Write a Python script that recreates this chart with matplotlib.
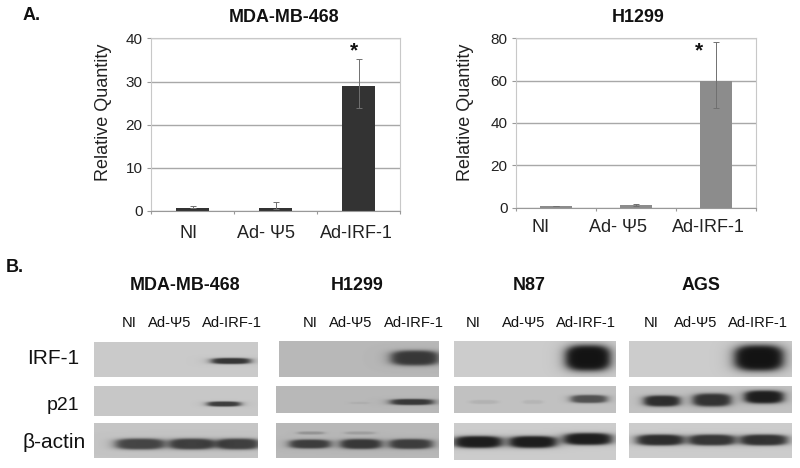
"""Relative quantity bar charts (A) and western blot panels (B)."""
import numpy as np
import matplotlib
matplotlib.use('Agg')
import matplotlib.pyplot as plt

plt.rcParams['font.family'] = ['Liberation Sans', 'DejaVu Sans']

W, H = 800, 468

# Panel A data
categories = ['NI', 'Ad- Ψ5', 'Ad-IRF-1']
mda_values = [0.8, 0.8, 29]
mda_err_up = [0.3, 1.2, 6.3]
mda_err_down = [0.2, 0.4, 5.2]
h1299_values = [0.6, 1.2, 60]
h1299_err_up = [0.1, 0.5, 18.5]
h1299_err_down = [0.1, 0.3, 13]

# Panel B labels
cell_lines = ['MDA-MB-468', 'H1299', 'N87', 'AGS']
lanes = ['NI', 'Ad-Ψ5', 'Ad-IRF-1']
proteins = ['IRF-1', 'p21', 'β-actin']

# blot strips: x0, x1, y0, y1, background grey
strips = [
    (94, 258, 342, 377, 0.79), (94, 258, 386, 416, 0.78), (94, 258, 423, 458, 0.77),
    (279, 439, 341, 377, 0.72), (276, 439, 386, 413, 0.72), (276, 439, 423, 458, 0.72),
    (454, 616, 341, 377, 0.80), (454, 616, 386, 413, 0.76), (454, 616, 423, 460, 0.80),
    (629, 792, 341, 377, 0.80), (629, 792, 386, 413, 0.76), (629, 792, 423, 458, 0.80),
]

# bands: centre x, centre y, width, height, strength
bands = [
    (231, 361, 40, 6, 0.58), (224, 404, 34, 5, 0.54),
    (140, 444, 50, 11, 0.50), (192, 444, 46, 11, 0.52), (238, 444, 44, 11, 0.52),
    (415, 358, 49, 15, 0.50), (412, 402, 44, 6, 0.50), (360, 403, 20, 2, 0.04),
    (310, 444, 42, 9, 0.48), (361, 444, 42, 10, 0.50), (411, 444, 44, 10, 0.48),
    (311, 433, 27, 3, 0.14), (360, 433, 30, 3, 0.10),
    (588, 358, 46, 26, 0.72), (589, 399, 37, 8, 0.44), (484, 402, 28, 4, 0.06),
    (533, 402, 20, 4, 0.05),
    (478, 442, 49, 12, 0.68), (533, 442, 48, 12, 0.68), (588, 439, 49, 12, 0.68),
    (759, 358, 50, 26, 0.72), (662, 401, 37, 11, 0.58), (712, 400, 39, 13, 0.56),
    (764, 397, 40, 13, 0.64),
    (660, 440, 48, 11, 0.62), (712, 440, 47, 11, 0.58), (764, 440, 48, 11, 0.60),
]


def px_axes(fig, left, top, right, bottom, **kw):
    return fig.add_axes([left / W, 1 - bottom / H, (right - left) / W, (bottom - top) / H], **kw)


def draw_strip(ax, x0, x1, y0, y1, grey):
    xs = np.arange(x0, x1, 0.5) + 0.25
    ys = np.arange(y0, y1, 0.5) + 0.25
    X, Y = np.meshgrid(xs, ys)
    img = np.full(X.shape, float(grey))
    for cx, cy, w, h, s in bands:
        if x0 <= cx <= x1 and y0 <= cy <= y1:
            dx = np.abs(X - cx) / (w / 2)
            dy = np.abs(Y - cy) / (h / 2)
            d = (dx ** 3 + dy ** 3) ** (1 / 3)
            img -= s / (1 + d ** 8)
    ax.imshow(img, extent=(x0, x1, y1, y0), cmap='gray', vmin=0, vmax=1,
              aspect='auto', interpolation='bilinear')


def bar_panel(fig, box, values, up, down, ymax, step, color):
    ax = px_axes(fig, *box)
    x = np.arange(3)
    ax.bar(x, values, width=0.4, color=color, zorder=2)
    ax.errorbar(x, values, yerr=[down, up], fmt='none', ecolor='#707070',
                elinewidth=0.7, capsize=2.5, capthick=0.7, zorder=3)
    ax.set_xlim(-0.5, 2.5)
    ax.set_ylim(0, ymax)
    ax.set_yticks(np.arange(0, ymax + 1, step))
    ax.yaxis.grid(True, color='#a8a8a8', linewidth=1)
    ax.set_axisbelow(True)
    ax.set_xticks([-0.5, 0.5, 1.5, 2.5], [])
    ax.tick_params(axis='x', length=2, color='#999999')
    ax.tick_params(axis='y', length=3, color='#999999', labelsize=11,
                   labelcolor='#222222', pad=3)
    for s in ax.spines.values():
        s.set_color('#c8c8c8')
        s.set_linewidth(0.8)
    ax.spines['bottom'].set_color('#999999')
    ax.patch.set_alpha(0)
    return ax


fig = plt.figure(figsize=(W / 100, H / 100), dpi=100, facecolor='white')

# full figure layer in pixel coordinates for the blots and free text
bg = fig.add_axes([0, 0, 1, 1], zorder=0)
for x0, x1, y0, y1, grey in strips:
    draw_strip(bg, x0, x1, y0, y1, grey)
bg.set_xlim(0, W)
bg.set_ylim(H, 0)
bg.axis('off')

bar_panel(fig, (151, 38.5, 400, 211), mda_values, mda_err_up, mda_err_down, 40, 10, '#333333')
bar_panel(fig, (516, 38.5, 756, 207.5), h1299_values, h1299_err_up, h1299_err_down, 80, 20, '#8c8c8c')

txt = dict(ha='center', va='center', color='#111111')
bg.text(32, 15, 'A.', fontsize=13, fontweight='bold', **txt)
bg.text(15, 268, 'B.', fontsize=13, fontweight='bold', **txt)
bg.text(284, 17, cell_lines[0], fontsize=12.9, fontweight='bold', **txt)
bg.text(638, 17, cell_lines[1], fontsize=12.9, fontweight='bold', **txt)
bg.text(354, 51, '*', fontsize=15, fontweight='bold', **txt)
bg.text(699, 51, '*', fontsize=15, fontweight='bold', **txt)

for x, y, x_labels, label_y in [(103, 112, [189, 266, 356], 233), (466, 112, [541, 618, 708], 227)]:
    bg.text(x, y, 'Relative Quantity', fontsize=13, rotation=90, ha='center', va='center', color='#222222')
    for lab, cx in zip(categories, x_labels):
        bg.text(cx, label_y, lab, fontsize=13, ha='center', va='center', color='#222222')

for name, cx in zip(cell_lines, [185, 357, 529, 701]):
    bg.text(cx, 285, name, fontsize=12.9, fontweight='bold', **txt)

lane_x = [[129, 170, 232], [310, 351, 414], [473, 524, 586], [651, 696, 758]]
for xs in lane_x:
    for lab, cx in zip(lanes, xs):
        bg.text(cx, 323, lab, fontsize=10.6, **txt)

for lab, right, y, size in zip(proteins, [79, 79, 86], [359, 405, 442], [15, 14, 15]):
    bg.text(right, y, lab, fontsize=size, ha='right', va='center', color='#111111')

fig.savefig('out.png', dpi=100, facecolor='white')
plt.close(fig)
